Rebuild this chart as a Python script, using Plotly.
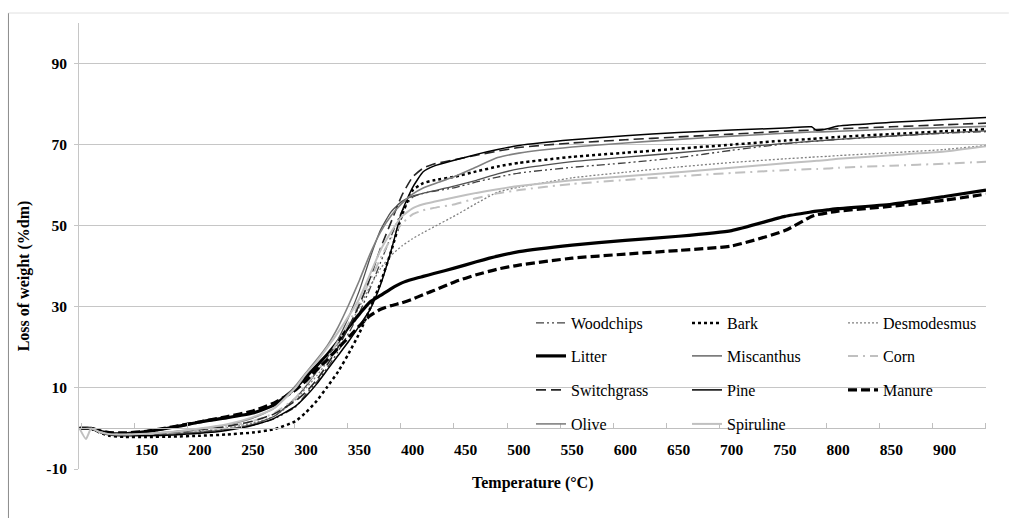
import plotly.graph_objects as go

temperature = [87, 93, 98, 105, 115, 130, 150, 175, 200, 225, 250, 270, 290, 300, 310, 320, 330, 340, 350, 360,
               370, 380, 390, 400, 410, 420, 440, 460, 480, 500, 550, 600, 650, 700, 750, 775, 780, 790, 800,
               850, 900, 939]

woodchips = [0, 0, 0, -0.8, -1.5, -1.6, -1.5, -1.2, -0.8, -0.2, 0.8, 2.4, 5.3, 8.5, 11.5, 15, 19, 23.5, 28.5, 34.5,
             41, 47.5, 53.5, 57, 58, 58.5, 59.4, 60.8, 62.0, 63.0, 64.4, 65.5, 66.8, 68.6, 70.2, 70.8, 70.9, 71.1,
             71.3, 72.1, 72.8, 73.2]
bark = [0, 0, 0, -0.9, -1.8, -2.1, -2.1, -2.0, -1.8, -1.5, -1.0, -0.2, 1.8, 4, 6.8, 10.3, 14, 18.5, 23.5, 29.5,
        36, 43.8, 52.5, 58.7, 60.5, 61.2, 62.1, 63.4, 64.6, 65.5, 67.0, 68.0, 69.0, 70.0, 71.0, 71.4, 71.5, 71.7,
        71.9, 72.6, 73.3, 73.8]
desmodesmus = [0, 0, 0, -0.8, -1.5, -1.6, -1.4, -1.0, -0.5, 0.2, 1.3, 3.0, 7.0, 10, 13, 16.5, 20.5, 25, 30, 35,
               39.5, 42.7, 45, 46.8, 48.3, 49.7, 52.5, 55.5, 58.3, 59.5, 61.8, 63.2, 64.5, 65.6, 66.5, 66.9, 67.0,
               67.1, 67.3, 68.0, 68.8, 69.8]
litter = [0, 0, 0, -0.6, -1.2, -1.3, -0.8, 0.3, 1.6, 2.6, 3.8, 5.8, 10, 12.8, 15.5, 18.3, 21.5, 25, 28.2, 31.2,
          32.8, 34.5, 35.9, 36.8, 37.5, 38.2, 39.6, 41.1, 42.5, 43.6, 45.2, 46.4, 47.4, 48.8, 52.3, 53.4, 53.6,
          53.9, 54.2, 55.3, 57.2, 58.8]
miscanthus = [0, 0, 0, -0.8, -1.5, -1.7, -1.6, -1.3, -0.9, -0.2, 1.0, 3.0, 7.5, 10.5, 14, 17.5, 22, 27.5, 34, 42,
              49, 53.5, 56, 57.3, 58, 58.6, 59.8, 61.2, 62.8, 64.0, 65.8, 66.9, 68.0, 69.2, 70.3, 70.8, 70.9, 71.1,
              71.3, 72.1, 72.9, 73.4]
corn = [0, 0, 0, -0.8, -1.4, -1.5, -1.4, -1.0, -0.4, 0.4, 1.8, 3.8, 7.5, 11, 14, 17.5, 21.5, 26, 31, 36.5,
        42, 47, 50.5, 52.8, 53.8, 54.4, 55.3, 56.8, 58.0, 58.8, 60.3, 61.3, 62.2, 63.0, 63.7, 64.0, 64.0, 64.1,
        64.3, 64.8, 65.3, 65.8]
switchgrass = [0, 0, 0, -0.8, -1.4, -1.5, -1.3, -0.9, -0.3, 0.5, 1.8, 3.6, 6.8, 9, 12, 15.8, 20, 25, 30.5, 37,
               44.5, 51, 57.5, 62, 64.2, 65.2, 66.3, 67.4, 68.4, 69.3, 70.4, 71.2, 71.9, 72.6, 73.3, 73.6, 73.7,
               73.8, 73.9, 74.4, 74.9, 75.3]
pine = [0, 0, 0, -0.9, -1.6, -1.8, -1.8, -1.6, -1.2, -0.5, 0.8, 2.5, 5.5, 8, 11, 14.5, 18, 21.5, 25.3, 29.3,
        35.5, 44, 53.5, 59.4, 63.3, 64.7, 66.2, 67.6, 68.8, 69.8, 71.2, 72.2, 73.0, 73.6, 74.1, 74.4, 73.5, 73.9,
        74.6, 75.5, 76.2, 76.7]
manure = [0, 0, 0, -0.5, -1.0, -1.1, -0.7, 0.4, 1.6, 2.9, 4.3, 6.3, 9.5, 11.8, 14.5, 17, 19.8, 22.5, 25.3, 27.8,
          29.4, 30.3, 31.0, 31.9, 33.0, 34.0, 36.2, 37.9, 39.3, 40.3, 42.0, 43.0, 43.9, 45.0, 48.8, 52.3, 52.7,
          53.2, 53.6, 54.8, 56.3, 57.8]
olive = [0, 0, 0, -0.8, -1.4, -1.5, -1.3, -0.8, -0.1, 0.9, 2.6, 5.0, 10.5, 13.8, 17, 20.5, 25, 30.5, 36.5, 43,
         48.5, 52.5, 55.5, 57.8, 59.3, 60.3, 62.2, 64.5, 66.8, 67.9, 69.4, 70.4, 71.3, 72.1, 72.8, 73.1, 73.1,
         73.2, 73.3, 73.8, 74.2, 74.5]
spiruline = [0, -2.6, 0, -0.8, -1.4, -1.5, -1.3, -0.8, 0.0, 1.0, 2.8, 5.0, 10, 13.5, 16.5, 20, 23.7, 27.7, 32, 38,
             44, 48.5, 52.3, 54.3, 55.3, 55.9, 57.0, 58.1, 59.0, 59.8, 61.2, 62.2, 63.2, 64.3, 65.4, 65.9, 66.0,
             66.2, 66.5, 67.4, 68.3, 69.6]

x_ticks = [150, 200, 250, 300, 350, 400, 450, 500, 550, 600, 650, 700, 750, 800, 850, 900]
y_ticks = [-10, 10, 30, 50, 70, 90]
y_tick_labels = ["-10", "10", "30", "50", "70", "90"]

FONT = "Liberation Serif"

series = [
    ("Woodchips", woodchips, "#404040", 1.3, "8px,3px,2px,3px,2px,3px", "legend"),
    ("Bark", bark, "#000000", 2.5, "dot", "legend"),
    ("Desmodesmus", desmodesmus, "#808080", 1.3, "2px,2px", "legend"),
    ("Litter", litter, "#000000", 3.2, "solid", "legend2"),
    ("Miscanthus", miscanthus, "#505050", 1.3, "solid", "legend2"),
    ("Corn", corn, "#c0c0c0", 2.0, "10px,5px,2px,5px", "legend2"),
    ("Switchgrass", switchgrass, "#262626", 1.6, "10px,5px", "legend3"),
    ("Pine", pine, "#000000", 1.5, "solid", "legend3"),
    ("Manure", manure, "#000000", 3.2, "9px,4px", "legend3"),
    ("Olive", olive, "#808080", 1.6, "solid", "legend4"),
    ("Spiruline", spiruline, "#c0c0c0", 2.0, "solid", "legend4"),
]

fig = go.Figure()
for name, vals, color, width, dash, leg in series:
    fig.add_trace(go.Scatter(
        x=temperature, y=vals, name=name, mode="lines",
        line=dict(color=color, width=width, dash=dash, shape="spline", smoothing=0.5),
        legend=leg,
    ))

W, H = 1011, 518
ML, MR, MT, MB = 79, 19, 23, 49
pw, ph = W - ML - MR, H - MT - MB


def px_x(px):
    return (px - ML) / pw


def px_y(py):
    return (H - MB - py) / ph


def legend_cfg(center_py):
    return dict(
        orientation="h", x=px_x(534), xanchor="left", y=px_y(center_py - 18), yanchor="top",
        entrywidth=111, entrywidthmode="pixels", bgcolor="rgba(0,0,0,0)", borderwidth=0,
        font=dict(family=FONT, size=16, color="#000000"), traceorder="normal",
    )


fig.update_layout(
    width=W, height=H,
    margin=dict(l=ML, r=MR, t=MT, b=MB),
    paper_bgcolor="white", plot_bgcolor="white",
    font=dict(family=FONT, color="#000000"),
    showlegend=True,
    legend=legend_cfg(324),
    legend2=legend_cfg(357),
    legend3=legend_cfg(391),
    legend4=legend_cfg(425),
    xaxis=dict(
        range=[86.5, 939], tickmode="array", tickvals=x_ticks, ticks="",
        showgrid=False, zeroline=False, showline=True, linecolor="#bfbfbf", linewidth=1,
        anchor="free", position=10 / 110, ticklabelstandoff=7,
        tickfont=dict(family=FONT, size=15.5, color="#000000", weight="bold"),
        minor=dict(tick0=38.8, dtick=50, ticks="inside", ticklen=5, tickcolor="#bfbfbf", showgrid=False),
    ),
    yaxis=dict(
        range=[-10, 100], tickmode="array", tickvals=y_ticks, ticktext=y_tick_labels,
        showgrid=True, gridcolor="#c6c6c6", gridwidth=1, zeroline=False,
        showline=True, linecolor="#c6c6c6", linewidth=1,
        ticks="outside", ticklen=4, tickcolor="#c6c6c6", ticklabelstandoff=4,
        tickfont=dict(family=FONT, size=15.5, color="#000000", weight="bold"),
    ),
    annotations=[
        dict(text="Temperature (°C)", xref="paper", yref="paper", x=0.5, y=px_y(483),
             xanchor="center", yanchor="middle", showarrow=False,
             font=dict(family=FONT, size=16, color="#000000", weight="bold")),
        dict(text="Loss of weight (%dm)", xref="paper", yref="paper", x=px_x(24), y=px_y(276),
             xanchor="center", yanchor="middle", showarrow=False, textangle=-90,
             font=dict(family=FONT, size=16, color="#000000", weight="bold")),
    ],
    shapes=[
        dict(type="line", xref="paper", yref="paper", x0=px_x(8), x1=px_x(8), y0=px_y(13), y1=px_y(530),
             line=dict(color="#8c8c8c", width=1)),
        dict(type="line", xref="paper", yref="paper", x0=px_x(8), x1=px_x(1015), y0=px_y(13), y1=px_y(13),
             line=dict(color="#e0e0e0", width=1)),
    ],
)

fig.write_html("out.html")
